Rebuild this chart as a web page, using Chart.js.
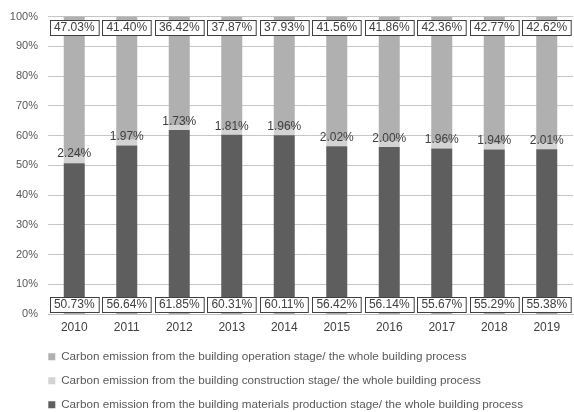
<!DOCTYPE html>
<html>
<head>
<meta charset="utf-8">
<script src="https://cdn.jsdelivr.net/npm/chart.js@4"></script>
<style>
html,body{margin:0;padding:0;background:#fff;}
#wrap{width:574px;height:412px;position:relative;}
</style>
</head>
<body>
<div id="wrap"><canvas id="c" width="574" height="412"></canvas></div>
<script>
const years = ['2010','2011','2012','2013','2014','2015','2016','2017','2018','2019'];
const materials = [50.73,56.64,61.85,60.31,60.11,56.42,56.14,55.67,55.29,55.38];
const construction = [2.24,1.97,1.73,1.81,1.96,2.02,2.00,1.96,1.94,2.01];
const operation = [47.03,41.40,36.42,37.87,37.93,41.56,41.86,42.36,42.77,42.62];
const yTicks = [0,10,20,30,40,50,60,70,80,90,100];

const FONT = 'Liberation Sans, Arial, sans-serif';

const labelPlugin = {
  id: 'valueLabels',
  afterDatasetsDraw(chart) {
    const ctx = chart.ctx;
    const yScale = chart.scales.y;
    ctx.save();
    ctx.font = '12px ' + FONT;
    ctx.textAlign = 'center';
    chart.data.datasets.forEach((ds, di) => {
      const meta = chart.getDatasetMeta(di);
      meta.data.forEach((bar, i) => {
        const txt = ds.data[i].toFixed(2) + '%';
        const w = ctx.measureText(txt).width;
        if (di === 1) {
          ctx.fillStyle = '#404040';
          ctx.textBaseline = 'alphabetic';
          ctx.fillText(txt, bar.x, bar.y + 0.5);
        } else {
          const cy = di === 0 ? yScale.getPixelForValue(0) - 10 : yScale.getPixelForValue(100) + 11;
          const bw = w + 8, bh = 15;
          const bx = Math.round(bar.x - bw / 2) + 0.5;
          const by = Math.round(cy - bh / 2) + 0.5;
          ctx.fillStyle = '#ffffff';
          ctx.fillRect(bx, by, bw, bh);
          ctx.strokeStyle = '#404040';
          ctx.lineWidth = 1;
          ctx.strokeRect(bx, by, bw, bh);
          ctx.fillStyle = '#404040';
          ctx.textBaseline = 'middle';
          ctx.fillText(txt, bar.x, cy + 0.5);
        }
      });
    });
    ctx.restore();
  }
};

const legendShift = {
  id: 'legendShift',
  afterLayout(chart) {
    const l = chart.legend;
    if (!l) return;
    l.left -= 12; l.right -= 12;
    l.top += 0.5; l.bottom += 0.5;
  }
};

new Chart(document.getElementById('c'), {
  type: 'bar',
  data: {
    labels: years,
    datasets: [
      { label: 'Carbon emission from the building materials production stage/ the whole building process', data: materials, backgroundColor: '#5e5e5e' },
      { label: 'Carbon emission from the building construction stage/ the whole building process', data: construction, backgroundColor: '#d3d3d3' },
      { label: 'Carbon emission from the building operation stage/ the whole building process', data: operation, backgroundColor: '#b0b0b0' }
    ]
  },
  options: {
    responsive: false,
    animation: false,
    devicePixelRatio: 1,
    layout: { padding: { top: 15, right: 1, bottom: -8, left: 0 } },
    datasets: { bar: { categoryPercentage: 1, barPercentage: 0.4 } },
    scales: {
      x: {
        stacked: true,
        grid: { display: false, drawTicks: false },
        border: { display: true, color: '#bfbfbf', width: 1 },
        ticks: { color: '#404040', font: { family: FONT, size: 12 }, padding: 6 },
        afterFit(s) { s.height = 24; }
      },
      y: {
        stacked: true,
        min: 0, max: 100,
        afterBuildTicks(s) { s.ticks = yTicks.map(v => ({ value: v })); },
        grid: { color: '#c6c6c6', lineWidth: 1, drawTicks: false },
        border: { display: false },
        ticks: { color: '#595959', font: { family: FONT, size: 11 }, padding: 10, callback: v => v + '%' },
        afterFit(s) { s.width = 48; }
      }
    },
    plugins: {
      legend: {
        position: 'bottom',
        align: 'start',
        fullSize: false,
        reverse: true,
        labels: { boxWidth: 7, boxHeight: 7, padding: 12.3, color: '#595959', font: { family: FONT, size: 11.7 } }
      },
      tooltip: { enabled: false }
    }
  },
  plugins: [labelPlugin, legendShift]
});
</script>
</body>
</html>
